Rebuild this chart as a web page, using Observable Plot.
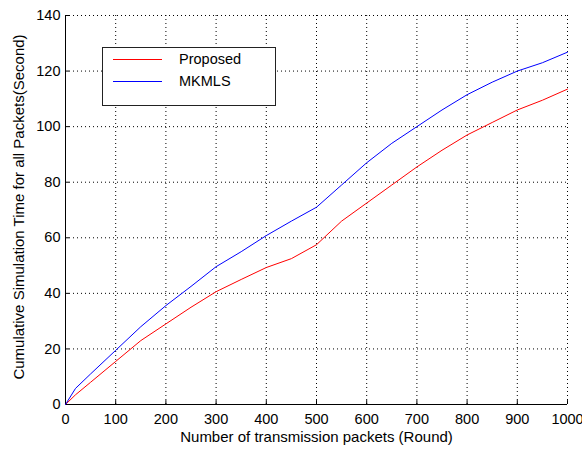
<!DOCTYPE html>
<html>
<head>
<meta charset="utf-8">
<script src="https://cdn.jsdelivr.net/npm/d3@7"></script>
<script src="https://cdn.jsdelivr.net/npm/@observablehq/plot@0.6"></script>
<style>
  html, body { margin: 0; padding: 0; background: #fff; }
  #wrap { position: relative; width: 582px; height: 449px; overflow: hidden; font-family: "Liberation Sans", Arial, sans-serif; }
  #legend { position: absolute; left: 102px; top: 47px; width: 172px; height: 57px; border: 1px solid #222; background: #fff; font-size: 14.5px; }
  .row { position: absolute; left: 10px; height: 14px; display: flex; align-items: center; }
  .sw { width: 49px; height: 0; border-top: 1px solid; margin-right: 17px; }
</style>
</head>
<body>
<div id="wrap"></div>
<script>
const rounds   = [0, 20, 50, 100, 150, 200, 250, 300, 350, 400, 450, 500, 550, 600, 650, 700, 750, 800, 850, 900, 950, 1000];
const proposed = [0, 3.5, 8, 15.5, 23, 29, 35, 40.6, 45, 49.3, 52.5, 57.5, 66, 72.5, 79, 85.5, 91.5, 97, 101.5, 106, 109.5, 113.5];
const mkmls    = [0, 5.8, 11, 19.5, 28, 35.6, 42.5, 49.6, 55, 60.8, 66, 71, 79, 87, 94, 100, 106, 111.5, 116, 120, 123, 126.8];
const seriesNames = ["Proposed", "MKMLS"];
const seriesColors = ["#ff0000", "#0000ff"];
const xTicks = [0, 100, 200, 300, 400, 500, 600, 700, 800, 900, 1000];
const yTicks = [0, 20, 40, 60, 80, 100, 120, 140];
const xLabel = "Number of transmission packets (Round)";
const yLabel = "Cumulative Simulation Time for all Packets(Second)";

const data = [];
rounds.forEach((r, i) => {
  data.push({round: r, value: proposed[i], series: seriesNames[0]});
  data.push({round: r, value: mkmls[i], series: seriesNames[1]});
});

const chart = Plot.plot({
  width: 582,
  height: 449,
  marginLeft: 65,
  marginRight: 15,
  marginTop: 15,
  marginBottom: 45,
  style: {fontFamily: "'Liberation Sans', Arial, sans-serif", fontSize: "14.5px", background: "#fff", color: "#000", overflow: "visible"},
  x: {domain: [0, 1000]},
  y: {domain: [0, 140]},
  color: {domain: seriesNames, range: seriesColors},
  marks: [
    Plot.gridX(xTicks.slice(1), {stroke: "#000", strokeOpacity: 1, strokeDasharray: "1,3"}),
    Plot.gridY(yTicks.slice(1), {stroke: "#000", strokeOpacity: 1, strokeDasharray: "1,3"}),
    Plot.ruleX([0], {stroke: "#000"}),
    Plot.ruleY([0], {stroke: "#000"}),
    Plot.ruleX(xTicks, {x: d => d, y1: 0, y2: 1.4, stroke: "#000"}),
    Plot.ruleY(yTicks, {y: d => d, x1: 0, x2: 8, stroke: "#000"}),
    Plot.axisX(xTicks, {tickSize: 0, tickPadding: 9, fontSize: 14.5, label: null, tickFormat: d => String(d)}),
    Plot.axisY(yTicks, {tickSize: 0, tickPadding: 5, fontSize: 14.5, label: null, tickFormat: d => String(d)}),
    Plot.text([xLabel], {frameAnchor: "bottom", dy: 37, fontSize: 15}),
    Plot.text([yLabel], {frameAnchor: "left", dx: -46, dy: -3, rotate: -90, textAnchor: "middle", fontSize: 15}),
    Plot.line(data, {x: "round", y: "value", stroke: "series", strokeWidth: 1})
  ]
});

const wrap = document.getElementById("wrap");
wrap.appendChild(chart);

const legend = document.createElement("div");
legend.id = "legend";
seriesNames.forEach((name, i) => {
  const row = document.createElement("div");
  row.className = "row";
  row.style.top = (i === 0 ? 4 : 26) + "px";
  const sw = document.createElement("div");
  sw.className = "sw";
  sw.style.borderTopColor = seriesColors[i];
  const t = document.createElement("span");
  t.textContent = name;
  row.appendChild(sw);
  row.appendChild(t);
  legend.appendChild(row);
});
wrap.appendChild(legend);
</script>
</body>
</html>
